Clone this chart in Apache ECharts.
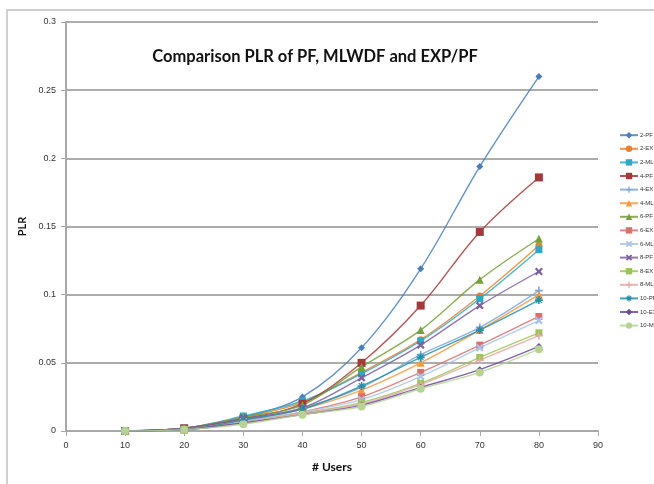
<!DOCTYPE html>
<html><head><meta charset="utf-8">
<script src="https://cdn.jsdelivr.net/npm/echarts@6/dist/echarts.min.js"></script>
<style>html,body{margin:0;padding:0;background:#fff}#c{width:654px;height:484px}</style>
</head><body><div id="c"></div>
<script>
const users = [10, 20, 30, 40, 50, 60, 70, 80];
const seriesNames = ['2-PF','2-EX','2-ML','4-PF','4-EX','4-ML','6-PF','6-EX','6-ML','8-PF','8-EX','8-ML','10-PF','10-EX','10-ML'];
const pf2  = [0, 0.002, 0.010, 0.025, 0.061, 0.119, 0.194, 0.260];
const ex2  = [0, 0.002, 0.010, 0.021, 0.043, 0.067, 0.099, 0.136];
const ml2  = [0, 0.002, 0.011, 0.022, 0.042, 0.066, 0.097, 0.133];
const pf4  = [0, 0.002, 0.009, 0.020, 0.050, 0.092, 0.146, 0.186];
const ex4  = [0, 0.001, 0.008, 0.017, 0.032, 0.056, 0.076, 0.103];
const ml4  = [0, 0.001, 0.008, 0.016, 0.030, 0.050, 0.074, 0.100];
const pf6  = [0, 0.002, 0.010, 0.019, 0.047, 0.074, 0.111, 0.141];
const ex6  = [0, 0.001, 0.007, 0.014, 0.025, 0.043, 0.063, 0.084];
const ml6  = [0, 0.001, 0.007, 0.014, 0.023, 0.040, 0.061, 0.081];
const pf8  = [0, 0.002, 0.009, 0.017, 0.039, 0.063, 0.092, 0.117];
const ex8  = [0, 0.001, 0.006, 0.013, 0.021, 0.035, 0.054, 0.072];
const ml8  = [0, 0.001, 0.006, 0.013, 0.020, 0.034, 0.052, 0.070];
const pf10 = [0, 0.001, 0.008, 0.016, 0.033, 0.054, 0.074, 0.096];
const ex10 = [0, 0.001, 0.006, 0.012, 0.019, 0.032, 0.045, 0.062];
const ml10 = [0, 0.001, 0.005, 0.012, 0.018, 0.031, 0.043, 0.060];
const allValues = [pf2, ex2, ml2, pf4, ex4, ml4, pf6, ex6, ml6, pf8, ex8, ml8, pf10, ex10, ml10];
const yTicks = [0, 0.05, 0.1, 0.15, 0.2, 0.25, 0.3];

const colors = ['#4A7EBB','#E8812F','#2FA8C8','#A6373A','#7FA6D8','#F7983F','#76A03A','#D9706E','#A9C4E6','#7E60A0','#9BC556','#E8A8A8','#238FA8','#6E4A9E','#B5D393'];
const X = 'path://M2,0 L5,3 L8,0 L10,2 L7,5 L10,8 L8,10 L5,7 L2,10 L0,8 L3,5 L0,2 Z';
const PLUS = 'path://M4,0 H6 V4 H10 V6 H6 V10 H4 V6 H0 V4 H4 Z';
const DASH = 'path://M0,4 H10 V6 H0 Z';
const STAR = 'path://M4,0 H6 V3 L8,1 L9,2 L7,4 H10 V6 H7 L9,8 L8,9 L6,7 V10 H4 V7 L2,9 L1,8 L3,6 H0 V4 H3 L1,2 L2,1 L4,3 Z';
const symbols = ['diamond','circle','rect','rect',PLUS,'triangle','triangle',DASH,X,X,DASH,PLUS,STAR,'diamond','circle'];
const sizes = [7,7,7,8,8,8,8,7,8,8,7,8,8,7,8];

const chart = echarts.init(document.getElementById('c'));
chart.setOption({
  animation: false,
  backgroundColor: '#fff',
  graphic: [{type:'rect', shape:{x:7,y:10,width:700,height:520}, style:{fill:'none', stroke:'#cfcfcf', lineWidth:2}}],
  title: {text:'Comparison PLR of PF, MLWDF and EXP/PF', left:310, top:43, textAlign:'center',
    textStyle:{fontFamily:'Lato', fontWeight:'bold', fontSize:16.5, color:'#111'}},
  legend: {orient:'vertical', left:614, top:127, itemWidth:18, itemHeight:8, itemGap:7.2,
    textStyle:{fontSize:6, color:'#333', padding:[0,0,0,-3]}, data: seriesNames},
  grid: {left:66, right:56, top:22, bottom:53},
  xAxis: {type:'value', min:0, max:90, interval:10, name:'# Users', nameLocation:'middle', nameGap:30,
    nameMoveOverlap:false,
    nameTextStyle:{fontFamily:'Lato', fontWeight:'bold', fontSize:12, color:'#111'},
    axisLine:{show:true, lineStyle:{color:'#a8a8a8', width:2}},
    axisTick:{show:true, length:5, lineStyle:{color:'#a8a8a8'}},
    axisLabel:{fontSize:9, color:'#333', margin:10},
    splitLine:{show:false}},
  yAxis: {type:'value', min:0, max:0.3, interval:0.05, name:'PLR', nameLocation:'middle', nameGap:38,
    nameMoveOverlap:false,
    nameTextStyle:{fontFamily:'Lato', fontWeight:'bold', fontSize:11, color:'#111'},
    axisLine:{show:true, lineStyle:{color:'#a8a8a8', width:2}},
    axisTick:{show:true, length:5, lineStyle:{color:'#a8a8a8'}},
    axisLabel:{fontSize:9, color:'#333', margin:10, formatter: v => String(yTicks.find(t => Math.abs(t-v)<1e-9) ?? v)},
    splitLine:{show:true, lineStyle:{color:'#acacac', width:2}}},
  series: seriesNames.map((n,i) => ({
    name:n, type:'line', smooth:0.35, data: users.map((u,j)=>[u, allValues[i][j]]),
    symbol: symbols[i], symbolSize: sizes[i], showSymbol:true,
    itemStyle:{color:colors[i]}, lineStyle:{color:colors[i], width:1.4, opacity:0.85}
  }))
});
</script></body></html>
